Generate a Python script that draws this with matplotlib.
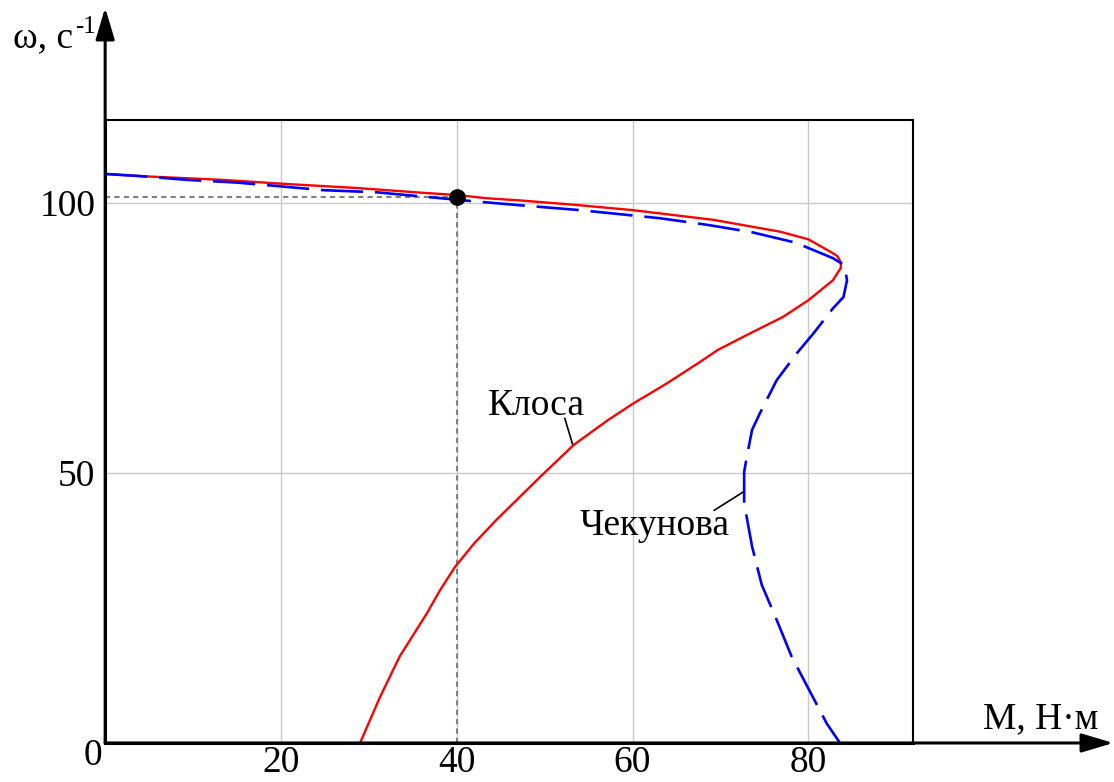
import numpy as np
import matplotlib
matplotlib.use("Agg")
import matplotlib.pyplot as plt

plt.rcParams['font.family'] = ['Liberation Serif', 'DejaVu Serif']

# Клоса (красная), M [Н·м], omega [1/c]
kloss_M = [0, 4, 13.4, 20, 28.6, 36.2, 40, 43.4, 47.2, 54, 60, 69.2, 76.8, 80, 82.5, 83.3,
           83.7, 83.7, 83.3, 82.8, 80, 77.1, 73.4, 69.7, 67.7, 63.9, 60, 57.2, 53.3, 49.5, 44.5,
           42.0, 39.8, 38.1, 36.6, 33.5, 31.3, 29.0]
kloss_w = [105.4, 105.0, 104.3, 103.6, 102.8, 101.9, 101.5, 100.9, 100.5, 99.6, 98.7, 96.9, 94.7, 93.3, 91.0, 90.2,
           89.0, 88.0, 87.0, 85.7, 82.0, 78.9, 75.9, 72.8, 70.6, 66.6, 62.8, 59.8, 55.2, 49.3, 41.3,
           37.0, 32.6, 28.3, 24.0, 16.0, 8.6, 0.0]

# Чекунова (синяя пунктирная)
chek_M = [0, 4, 9.3, 15, 20, 24.8, 30.9, 36.2, 41.5, 47.2, 54, 63.1, 68.4, 73.6, 78.5, 82.8,
          83.8, 84.2, 84.4, 84.0, 82.8, 80.6, 78.7, 76.4, 74.5, 73.6, 73.0, 72.7, 72.7, 73.6, 74.7,
          76.4, 78.1, 80.0, 82.1, 83.6]
chek_w = [105.4, 105.0, 104.3, 103.8, 103.1, 102.4, 102.0, 101.2, 100.4, 99.6, 98.7, 97.2, 96.0, 94.6, 92.7, 89.8,
          88.8, 87.6, 85.7, 82.6, 80.5, 75.9, 72.2, 67.2, 61.1, 58.0, 53.0, 50.2, 44.4, 36.4, 29.3,
          22.8, 16.0, 10.1, 3.6, 0.0]

# рабочая точка
M_nom = 40
w_nom = 101.2

fig = plt.figure(figsize=(11.14, 7.82), dpi=100)
ax = fig.add_axes([0.0944, 0.0499, 0.7251, 0.7967])
ax.set_xlim(0, 91.9)
ax.set_ylim(0, 115.4)

ax.set_xticks([20, 40, 60, 80])
ax.set_yticks([50, 100])
ax.grid(True, color='#c8c8c8', lw=1)
ax.tick_params(length=0, labelsize=27)
ax.tick_params(axis='x', pad=1.5)
ax.tick_params(axis='y', pad=7)
for s in ax.spines.values():
    s.set_color('black')
    s.set_linewidth(1.5)
ax.spines['left'].set_linewidth(2.2)
ax.spines['bottom'].set_linewidth(2.2)

ax.plot(kloss_M, kloss_w, color='red', lw=1.7, zorder=3)
ax.plot(chek_M, chek_w, color='blue', lw=1.9, dashes=(16, 4.5), zorder=3)

# пунктирные проекции рабочей точки
ax.plot([M_nom, M_nom], [0, w_nom], color='#808080', lw=1.5, dashes=(2.5, 2), zorder=2)
ax.plot([0, M_nom], [w_nom, w_nom], color='#808080', lw=1.5, dashes=(2.5, 2), zorder=2)
ax.plot(M_nom, w_nom, 'o', color='black', ms=11, zorder=4)

# подписи кривых
ax.text(43.5, 60.7, 'Клоса', fontsize=27, ha='left', va='baseline')
ax.plot([52.3, 53.2], [60.1, 55.2], color='black', lw=1.2)
ax.text(54.0, 38.5, 'Чекунова', fontsize=27, ha='left', va='baseline')
ax.plot([69.3, 72.6], [43.1, 46.5], color='black', lw=1.2)

# оси со стрелками
arrow = dict(arrowstyle='-|>,head_length=0.97,head_width=0.29', mutation_scale=20,
             color='black', lw=2.2, shrinkA=0, shrinkB=0)
ax.annotate('', xy=(0, 136.2), xytext=(0, 0), arrowprops=arrow, annotation_clip=False)
ax.annotate('', xy=(114.7, 0), xytext=(0, 0), arrowprops=arrow, annotation_clip=False)

W, H = 1114, 782
fig.text(92.5 / W, 1 - 756 / H, '0', fontsize=27, ha='center', va='center')
fig.text(13 / W, 1 - 47 / H, 'ω, с', fontsize=27, ha='left', va='baseline')
fig.text(75 / W, 1 - 33 / H, '-1', fontsize=18, ha='left', va='baseline')
fig.text(983 / W, 1 - 728 / H, 'М, Н·м', fontsize=27, ha='left', va='baseline')

fig.savefig('out.png', dpi=100)
